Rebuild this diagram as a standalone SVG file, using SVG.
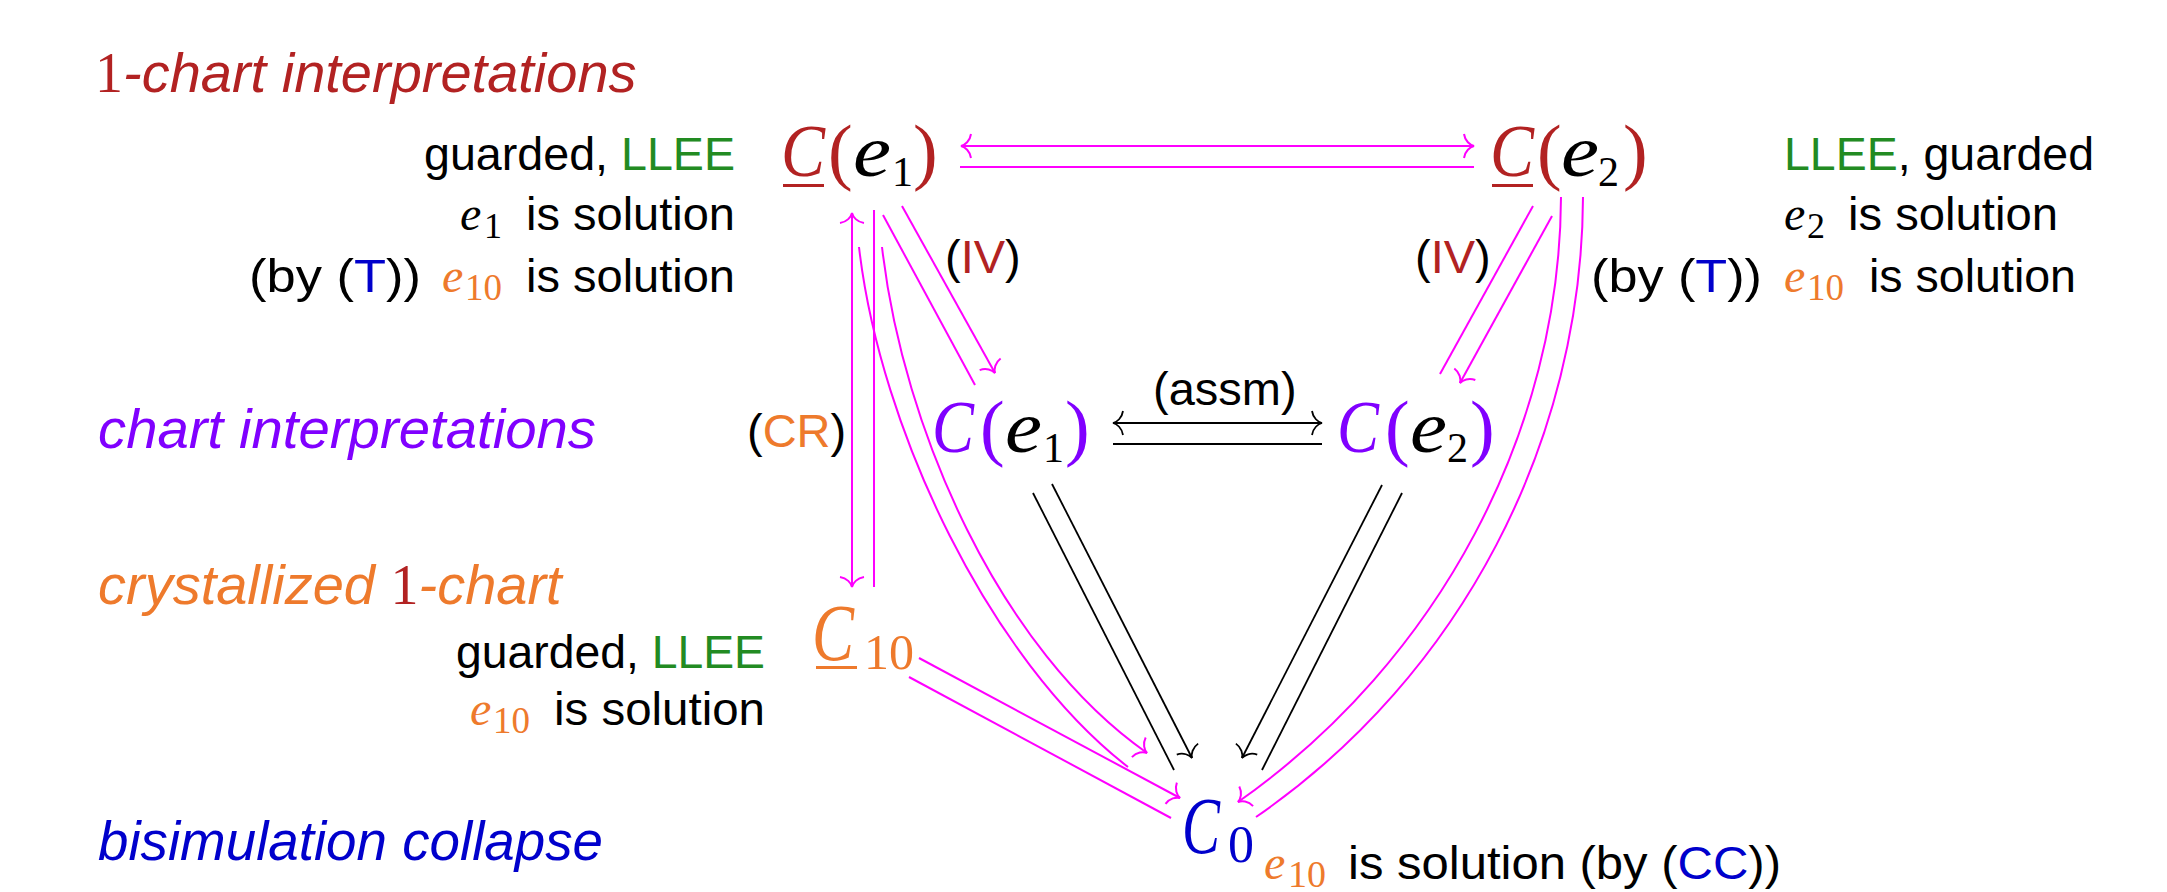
<svg xmlns="http://www.w3.org/2000/svg" width="2167" height="892" viewBox="0 0 2167 892">
<defs>
<style>
.math{font-family:"Liberation Serif","Times New Roman",serif;}
.mi{font-family:"Liberation Serif","Times New Roman",serif;font-style:italic;}
.lbl{font-family:"Liberation Sans",Arial,sans-serif;font-size:47px;fill:#000;}
.row{font-family:"Liberation Sans",Arial,sans-serif;font-style:italic;font-size:56px;}
.red{fill:#B22222;}
.pur{fill:#8000FF;}
.org{fill:#EE7A2C;}
.grn{fill:#228B22;}
.blu{fill:#0000CC;}
.blk{fill:#000;}
.mg{stroke:#FF00FF;stroke-width:2;fill:none;}
.bk{stroke:#000;stroke-width:1.8;fill:none;}
</style>
<marker id="am" viewBox="-14 -14 16 28" refX="0" refY="0" markerWidth="16" markerHeight="28" markerUnits="userSpaceOnUse" orient="auto-start-reverse" overflow="visible">
<path d="M -10,-12 C -9,-5 -4,-1 0,0 C -4,1 -9,5 -10,12" fill="none" stroke="#FF00FF" stroke-width="2"/>
</marker>
<marker id="ab" viewBox="-14 -14 16 28" refX="0" refY="0" markerWidth="16" markerHeight="28" markerUnits="userSpaceOnUse" orient="auto-start-reverse" overflow="visible">
<path d="M -10,-12 C -9,-5 -4,-1 0,0 C -4,1 -9,5 -10,12" fill="none" stroke="#000" stroke-width="1.8"/>
</marker>
</defs>
<rect width="2167" height="892" fill="#fff"/>

<g id="row-labels">
<text x="95" y="92" class="row red"><tspan class="math" style="font-style:normal">1</tspan>-chart interpretations</text>
<text x="98" y="448" class="row pur" textLength="498" lengthAdjust="spacingAndGlyphs">chart interpretations</text>
<text x="98" y="604" class="row org">crystallized <tspan class="math red" style="font-style:normal">1</tspan>-chart</text>
<text x="98" y="860" class="row blu" textLength="505" lengthAdjust="spacingAndGlyphs">bisimulation collapse</text>
</g>

<g id="connectors">
<line class="mg" x1="961" y1="146" x2="1474" y2="146" marker-start="url(#am)" marker-end="url(#am)"/>
<line class="mg" x1="960" y1="167" x2="1474" y2="167"/>
<line class="mg" x1="852" y1="213" x2="852" y2="587" marker-start="url(#am)" marker-end="url(#am)"/>
<line class="mg" x1="874" y1="210" x2="874" y2="587"/>
<line class="mg" x1="883" y1="215" x2="975" y2="385"/>
<line class="mg" x1="902" y1="206" x2="995" y2="373" marker-end="url(#am)"/>
<line class="mg" x1="1533" y1="206" x2="1440" y2="374"/>
<line class="mg" x1="1552" y1="216" x2="1460" y2="383" marker-end="url(#am)"/>
<path class="mg" d="M859,247 C880,430 990,660 1128,767"/>
<path class="mg" d="M882,247 C903,430 1000,650 1147,753" marker-end="url(#am)"/>
<path class="mg" d="M1561,197 C1560,430 1440,660 1238,802" marker-end="url(#am)"/>
<path class="mg" d="M1583,197 C1582,440 1462,675 1256,817"/>
<line class="mg" x1="919" y1="658" x2="1180" y2="798" marker-end="url(#am)"/>
<line class="mg" x1="909" y1="677" x2="1171" y2="818"/>
<line class="bk" x1="1052" y1="484" x2="1192" y2="758" marker-end="url(#ab)"/>
<line class="bk" x1="1033" y1="493" x2="1174" y2="770"/>
<line class="bk" x1="1382" y1="485" x2="1242" y2="758" marker-end="url(#ab)"/>
<line class="bk" x1="1402" y1="493" x2="1262" y2="770"/>
<line class="bk" x1="1113" y1="423" x2="1322" y2="423" marker-start="url(#ab)" marker-end="url(#ab)"/>
<line class="bk" x1="1113" y1="444" x2="1322" y2="444"/>
</g>

<g id="edge-labels">
<text class="lbl" x="945" y="273">(<tspan class="red">IV</tspan>)</text>
<text class="lbl" x="1415" y="273">(<tspan class="red">IV</tspan>)</text>
<text class="lbl" x="747" y="447">(<tspan class="org">CR</tspan>)</text>
<text class="lbl" x="1153" y="405">(assm)</text>
</g>

<g id="node-Ce1-underlined">
<text class="mi red" x="781" y="176" font-size="74" textLength="44" lengthAdjust="spacingAndGlyphs">C</text>
<rect x="783" y="184" width="41" height="3" fill="#B22222"/>
<text class="math red" x="828" y="176" font-size="74">(</text>
<text class="mi blk" x="853" y="176" font-size="74" textLength="38" lengthAdjust="spacingAndGlyphs">e</text>
<text class="math blk" x="892" y="186" font-size="42">1</text>
<text class="math red" x="913" y="176" font-size="74">)</text>
</g>

<g id="node-Ce2-underlined">
<text class="mi red" x="1490" y="176" font-size="74" textLength="44" lengthAdjust="spacingAndGlyphs">C</text>
<rect x="1492" y="184" width="41" height="3" fill="#B22222"/>
<text class="math red" x="1537" y="176" font-size="74">(</text>
<text class="mi blk" x="1561" y="176" font-size="74" textLength="38" lengthAdjust="spacingAndGlyphs">e</text>
<text class="math blk" x="1598" y="186" font-size="42">2</text>
<text class="math red" x="1623" y="176" font-size="74">)</text>
</g>

<g id="node-Ce1">
<text class="mi pur" x="932" y="452" font-size="74" textLength="42" lengthAdjust="spacingAndGlyphs">C</text>
<text class="math pur" x="980" y="452" font-size="74">(</text>
<text class="mi blk" x="1005" y="452" font-size="74" textLength="37" lengthAdjust="spacingAndGlyphs">e</text>
<text class="math blk" x="1043" y="462" font-size="42">1</text>
<text class="math pur" x="1065" y="452" font-size="74">)</text>
</g>

<g id="node-Ce2">
<text class="mi pur" x="1337" y="452" font-size="74" textLength="42" lengthAdjust="spacingAndGlyphs">C</text>
<text class="math pur" x="1385" y="452" font-size="74">(</text>
<text class="mi blk" x="1410" y="452" font-size="74" textLength="37" lengthAdjust="spacingAndGlyphs">e</text>
<text class="math blk" x="1447" y="462" font-size="42">2</text>
<text class="math pur" x="1470" y="452" font-size="74">)</text>
</g>

<g id="node-C10">
<text class="mi org" x="812" y="660" font-size="80" textLength="42" lengthAdjust="spacingAndGlyphs">C</text>
<text class="math org" x="864" y="669" font-size="50">10</text>
<rect x="816" y="666" width="41" height="3" fill="#EE7A2C"/>
</g>

<g id="node-C0">
<text class="mi blu" x="1182" y="853" font-size="80" textLength="38" lengthAdjust="spacingAndGlyphs">C</text>
<text class="math blu" x="1228" y="862" font-size="52">0</text>
</g>

<g id="annotations">
<text class="lbl" x="424" y="170" textLength="311" lengthAdjust="spacingAndGlyphs">guarded, <tspan class="grn">LLEE</tspan></text>
<text class="mi blk" x="460" y="230" font-size="48">e</text>
<text class="math blk" x="484" y="238" font-size="36">1</text>
<text class="lbl" x="526" y="230" textLength="209" lengthAdjust="spacingAndGlyphs">is solution</text>
<text class="lbl" x="249" y="292" textLength="172" lengthAdjust="spacingAndGlyphs">(by (<tspan class="blu">T</tspan>))</text>
<text class="mi org" x="442" y="292" font-size="48">e</text>
<text class="math org" x="465" y="300" font-size="37">10</text>
<text class="lbl" x="526" y="292" textLength="209" lengthAdjust="spacingAndGlyphs">is solution</text>

<text class="lbl" x="1784" y="170" textLength="310" lengthAdjust="spacingAndGlyphs"><tspan class="grn">LLEE</tspan>, guarded</text>
<text class="mi blk" x="1784" y="230" font-size="48">e</text>
<text class="math blk" x="1807" y="238" font-size="36">2</text>
<text class="lbl" x="1848" y="230" textLength="210" lengthAdjust="spacingAndGlyphs">is solution</text>
<text class="lbl" x="1591" y="292" textLength="171" lengthAdjust="spacingAndGlyphs">(by (<tspan class="blu">T</tspan>))</text>
<text class="mi org" x="1784" y="292" font-size="48">e</text>
<text class="math org" x="1807" y="300" font-size="37">10</text>
<text class="lbl" x="1869" y="292" textLength="207" lengthAdjust="spacingAndGlyphs">is solution</text>

<text class="lbl" x="456" y="668" textLength="309" lengthAdjust="spacingAndGlyphs">guarded, <tspan class="grn">LLEE</tspan></text>
<text class="mi org" x="470" y="725" font-size="48">e</text>
<text class="math org" x="493" y="733" font-size="37">10</text>
<text class="lbl" x="554" y="725" textLength="211" lengthAdjust="spacingAndGlyphs">is solution</text>

<text class="mi org" x="1264" y="879" font-size="48">e</text>
<text class="math org" x="1288" y="887" font-size="38">10</text>
<text class="lbl" x="1348" y="879" textLength="433" lengthAdjust="spacingAndGlyphs">is solution (by (<tspan class="blu">CC</tspan>))</text>
</g>
</svg>
